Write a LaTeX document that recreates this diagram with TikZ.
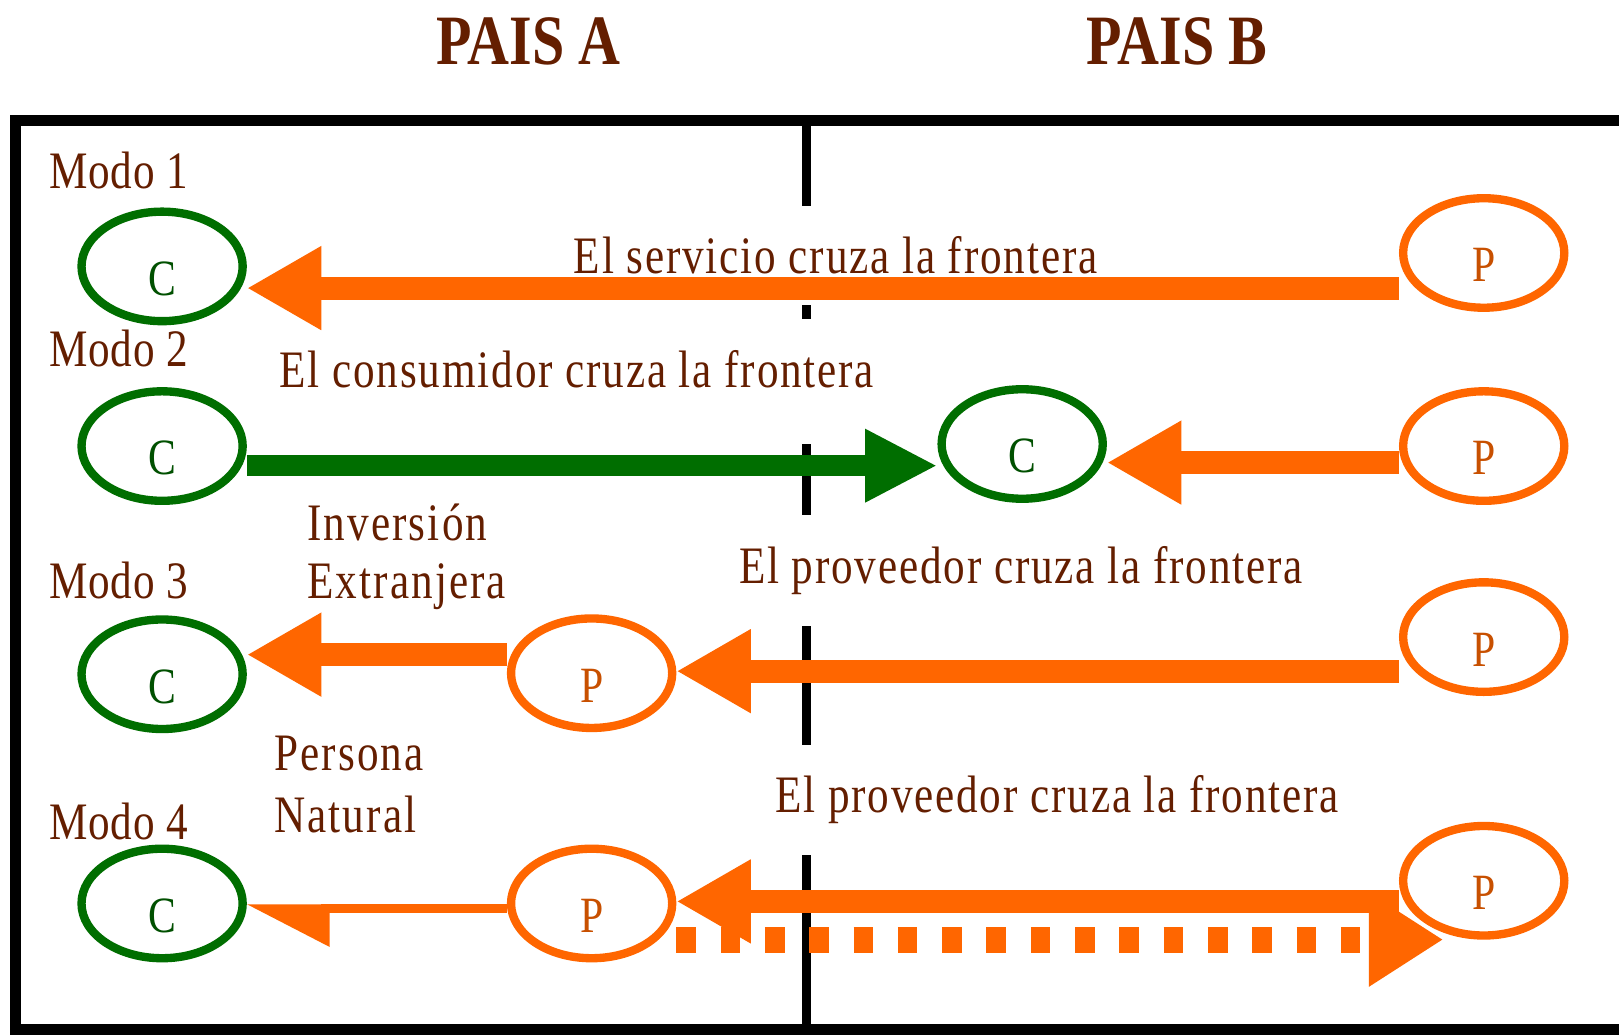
\documentclass[tikz,border=0pt]{standalone}
\usepackage{fontspec}
\setmainfont[FakeStretch=0.82]{Liberation Serif}
\usetikzlibrary{arrows.meta,shapes.geometric}

\definecolor{txtbrown}{RGB}{100,30,0}
\definecolor{provorange}{RGB}{255,102,0}
\definecolor{consgreen}{RGB}{0,110,0}
\definecolor{pletter}{RGB}{200,80,0}
\definecolor{cletter}{RGB}{0,80,0}

\tikzset{
    cons/.style={ellipse, draw=consgreen, line width=2.3pt, minimum width=1.56cm,
        minimum height=1.06cm, inner sep=0pt, text=cletter,
        font=\fontsize{14}{15}\selectfont, text height=0.56cm, text depth=0pt},
    prov/.style={cons, draw=provorange, text=pletter},
    modelabel/.style={anchor=base west, inner sep=0pt, text=txtbrown,
        font=\fontsize{14.5}{16}\selectfont\addfontfeatures{LetterSpace=1.5}},
    sidelabel/.style={modelabel, font=\fontsize{14.5}{16}\selectfont\addfontfeatures{LetterSpace=4}},
    crossing/.style={sidelabel, fill=white, inner xsep=2pt, inner ysep=0.3cm,
        font=\fontsize{14.5}{16}\selectfont\addfontfeatures{LetterSpace=3.5}},
    country/.style={text=txtbrown, font=\bfseries\fontsize{19.5}{22}\selectfont},
    flow/.style={draw=provorange, line width=6.3pt, -{Triangle[length=0.72cm, width=0.76cm]}},
    consflow/.style={draw=consgreen, line width=5.7pt, -{Triangle[length=0.70cm, width=0.66cm]}},
    thinflow/.style={draw=provorange, line width=2.3pt, -{Triangle[length=0.72cm, width=0.72cm, left]}},
    dotflow/.style={draw=provorange, line width=7.1pt, dash pattern=on 5.4pt off 6.8pt,
        -{Triangle[length=0.72cm, width=0.86cm]}}
}

\begin{document}
\begin{tikzpicture}[x=0.01cm, y=-0.01cm]
    \useasboundingbox (0,0) rectangle (1568,1002);
    \fill[white] (0,0) rectangle (1568,1002);

    % Countries
    \node[country] (paisA) at (512,40) {PAIS A};
    \node[country] (paisB) at (1140,40) {PAIS B};

    % Frame and border line
    \draw[line width=3pt] (1568,117) -- (15,117) -- (15,997) -- (1568,997);
    \draw[line width=2.3pt] (781,117) -- (781,997);

    % Labels
    \node[modelabel] (modo1) at (47,183) {Modo 1};
    \node[modelabel] (modo2) at (47,355) {Modo 2};
    \node[modelabel] (modo3) at (47,580) {Modo 3};
    \node[modelabel] (modo4) at (47,813) {Modo 4};
    \node[sidelabel] (inv) at (297,523) {Inversión};
    \node[sidelabel] (extr) at (297,580) {Extranjera};
    \node[sidelabel] (pers) at (265,746) {Persona};
    \node[sidelabel] (natu) at (265,806) {Natural};
    \node[crossing] (cruce1) at (548,265) {El servicio cruza la frontera};
    \node[crossing, text depth=0.25cm] (cruce2) at (263,375) {El consumidor cruza la frontera};
    \node[crossing] (cruce3) at (708,565) {El proveedor cruza la frontera};
    \node[crossing] (cruce4) at (743,787) {El proveedor cruza la frontera};

    % Modo 1
    \node[cons] (c1) at (157,258) {C};
    \node[prov] (p1) at (1437,245) {P};
    \draw[flow] (p1.west |- 0,279) -- (c1.east |- 0,279);

    % Modo 2
    \node[cons] (c2) at (157,432) {C};
    \node[cons] (c2b) at (990,430) {C};
    \node[prov] (p2) at (1437,432) {P};
    \draw[consflow] (c2.east |- 0,451) -- (c2b.west |- 0,451);
    \draw[flow] (p2.west |- 0,448) -- (c2b.east |- 0,448);

    % Modo 3
    \node[cons] (c3) at (157,653) {C};
    \node[prov] (p3m) at (573,652) {P};
    \node[prov] (p3) at (1437,617) {P};
    \draw[flow] (p3m.west |- 0,634) -- (c3.east |- 0,634);
    \draw[flow] (p3.west |- 0,650) -- (p3m.east |- 0,650);

    % Modo 4
    \node[cons] (c4) at (157,875) {C};
    \node[prov] (p4m) at (573,875) {P};
    \node[prov] (p4) at (1437,853) {P};
    \draw[thinflow] (p4m.west |- 0,880) -- (c4.east |- 0,880);
    \draw[dotflow] (p4m.east |- 0,910) -- (p4.232 |- 0,910);
    \draw[flow] (p4.west |- 0,873) -- (p4m.east |- 0,873);
\end{tikzpicture}
\end{document}
